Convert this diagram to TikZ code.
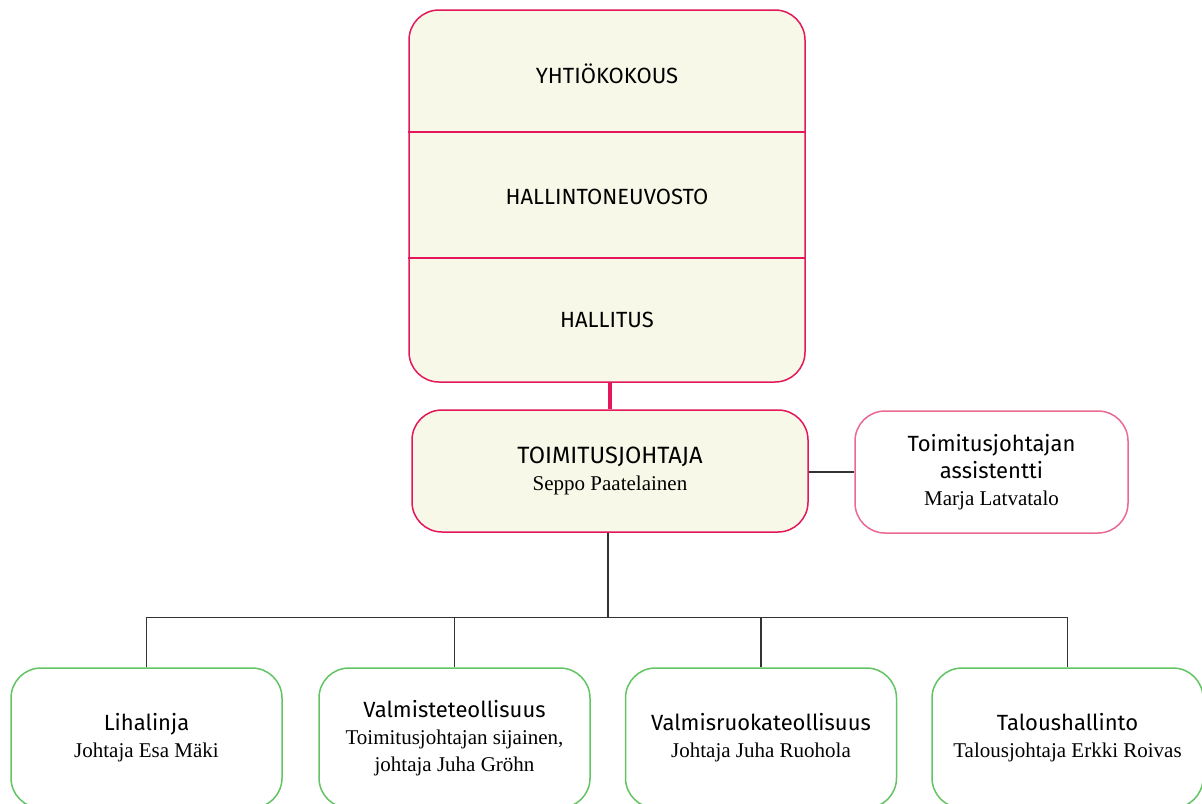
\documentclass[tikz,border=0pt]{standalone}
\usepackage{fontspec}
\setmainfont{Liberation Serif}
\setsansfont{Fira Sans}
\usepackage{tikz}
\usetikzlibrary{calc}
\definecolor{karmiini}{HTML}{E3175A}
\definecolor{roosa}{HTML}{EA6A90}
\definecolor{vihrea}{HTML}{62C462}
\definecolor{kerma}{HTML}{F8F8E8}
\definecolor{viiva}{HTML}{333333}
\newcommand{\otsikko}[1]{{\sffamily\fontsize{11}{13.5}\selectfont #1}}
\newcommand{\nimi}[1]{{\rmfamily\fontsize{10.5}{13.5}\selectfont #1}}
\tikzset{
  laatikko/.style={draw, line width=0.75pt, rounded corners=15pt, align=center,
    minimum height=61pt, inner sep=0pt, font=\fontsize{10.5}{13.5}\selectfont},
  johto/.style={laatikko, draw=karmiini, fill=kerma, minimum width=198pt},
  avustaja/.style={laatikko, draw=roosa, fill=white, minimum width=136.5pt},
  yksikko/.style={laatikko, draw=vihrea, fill=white, minimum width=135.5pt, minimum height=70pt},
  elin/.style={font=\sffamily\fontsize{11}{14}\selectfont},
  haaraviiva/.style={draw=viiva, line width=0.7pt}
}
\begin{document}
\begin{tikzpicture}[x=0.5pt,y=-0.5pt]
  \useasboundingbox (0,0) rectangle (1202,803);
  \node[johto, minimum height=186pt] (ylin) at (607,196) {};
  \node[elin] (yhtiokokous) at (607,74) {YHTIÖKOKOUS};
  \node[elin] (hallintoneuvosto) at (607,197) {HALLINTONEUVOSTO};
  \node[elin] (hallitus) at (607,320) {HALLITUS};
  \draw[karmiini, line width=0.75pt] (ylin.west |- 0,132) -- (ylin.east |- 0,132);
  \draw[karmiini, line width=0.75pt] (ylin.west |- 0,258) -- (ylin.east |- 0,258);

  \node[johto] (tj) at (610,471) {{\sffamily\fontsize{11.8}{13.5}\selectfont TOIMITUSJOHTAJA}\\\nimi{Seppo Paatelainen}};
  \node[avustaja] (assistentti) at (991.5,472) {\otsikko{Toimitusjohtajan}\\\otsikko{assistentti}\\\nimi{Marja Latvatalo}};
  \draw[karmiini, line width=2pt] (tj.north |- ylin.south) -- (tj.north);
  \draw[haaraviiva] (tj.east |- assistentti.west) -- (assistentti.west);

  \node[yksikko] (liha) at (146.5,738) {\otsikko{Lihalinja}\\\nimi{Johtaja Esa Mäki}};
  \node[yksikko] (valmiste) at (454.5,738) {\otsikko{Valmisteteollisuus}\\\nimi{Toimitusjohtajan sijainen,}\\\nimi{johtaja Juha Gröhn}};
  \node[yksikko] (valmisruoka) at (761,738) {\otsikko{Valmisruokateollisuus}\\\nimi{Johtaja Juha Ruohola}};
  \node[yksikko] (talous) at (1067.5,738) {\otsikko{Taloushallinto}\\\nimi{Talousjohtaja Erkki Roivas}};

  \coordinate (haara) at ($(tj.south)+(-2,85)$);
  \draw[haaraviiva] (tj.south -| haara) -- (haara);
  \foreach \y in {liha,valmiste,valmisruoka,talous}
    \draw[haaraviiva] (\y.north) |- (haara);
\end{tikzpicture}
\end{document}
